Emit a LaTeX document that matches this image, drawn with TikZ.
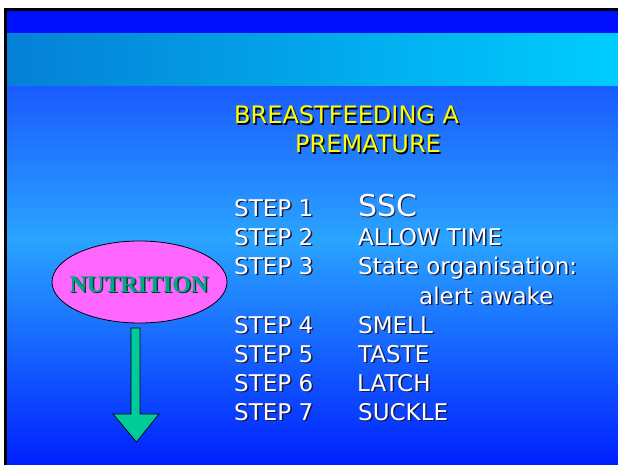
\documentclass[tikz,border=0pt]{standalone}
\usepackage{fontspec}
\setmainfont{DejaVu Sans}
\newfontfamily\nutfont{Liberation Serif}
\usetikzlibrary{shapes.geometric}
\definecolor{topblue}{HTML}{0010FF}
\definecolor{bandL}{HTML}{0580D6}
\definecolor{bandR}{HTML}{00CCFF}
\definecolor{bgA}{HTML}{1A5CFF}
\definecolor{bgB}{HTML}{2AA4FF}
\definecolor{bgC}{HTML}{0020FF}
\definecolor{pinkfill}{HTML}{FF66FF}
\definecolor{teal}{HTML}{00A884}
\definecolor{tealdark}{HTML}{00402F}
\definecolor{arrowfill}{HTML}{00CC99}
\definecolor{titleyellow}{HTML}{FFFF00}
\definecolor{shadowc}{HTML}{1A1A40}
\newcommand{\shtext}[2][shadowc]{\makebox[0pt][l]{\hspace{1.5pt}\raisebox{-1.5pt}{\textcolor{#1}{#2}}}#2}
\begin{document}
\begin{tikzpicture}[x=1pt,y=-1pt,
  txt/.style={anchor=base west,inner sep=0pt,text=white,font=\fontsize{23}{23}\selectfont},
  ttl/.style={anchor=base west,inner sep=0pt,text=titleyellow,font=\fontsize{24}{24}\selectfont},
  big/.style={font=\fontsize{30}{30}\selectfont}]
\useasboundingbox (0,0) rectangle (618,465);
\fill[white] (0,0) rectangle (618,465);
\fill[black] (4,8) rectangle (618,465);
\fill[topblue] (7,11) rectangle (618,34);
\shade[left color=bandL, right color=bandR] (7,34) rectangle (618,87);
\shade[top color=bgA, bottom color=bgB] (7,87) rectangle (618,240);
\shade[top color=bgB, bottom color=bgC] (7,239.5) rectangle (618,465);

% title
\node[ttl] (t1) at (234,124) {\shtext[black]{BREASTFEEDING A}};
\node[ttl] (t2) at (295,153) {\shtext[black]{PREMATURE}};

% steps
\foreach \n/\y in {1/216,2/245,3/274,4/333,5/362,6/391,7/420}{
  \node[txt] (s\n) at (234,\y) {\shtext{STEP \n}};
}
\node[txt,big] (a1) at (358,216) {\shtext{SSC}};
\node[txt] (a2) at (358,245) {\shtext{ALLOW TIME}};
\node[txt] (a3) at (358,274) {\shtext{State organisation:}};
\node[txt] (a3b) at (419,304) {\shtext{alert awake}};
\node[txt] (a4) at (358,333) {\shtext{SMELL}};
\node[txt] (a5) at (358,362) {\shtext{TASTE}};
\node[txt] (a6) at (357,391) {\shtext{LATCH}};
\node[txt] (a7) at (358,420) {\shtext{SUCKLE}};

% ellipse
\node[ellipse,draw=black,line width=0.8pt,fill=pinkfill,minimum width=175pt,minimum height=82pt,inner sep=0pt] (nut) at (139.5,282) {};
\node[anchor=base,inner sep=0pt,text=teal,font=\nutfont\bfseries\fontsize{24}{24}\selectfont] (nutt) at (139,292) {\shtext[tealdark]{NUTRITION}};

% arrow
\draw[black,line width=0.7pt,fill=arrowfill] (131,328) -- (140,328) -- (140,414) -- (159,414) -- (136.5,442) -- (113,414) -- (131,414) -- cycle;
\coordinate (arrowtip) at (136.5,442);
\end{tikzpicture}
\end{document}
